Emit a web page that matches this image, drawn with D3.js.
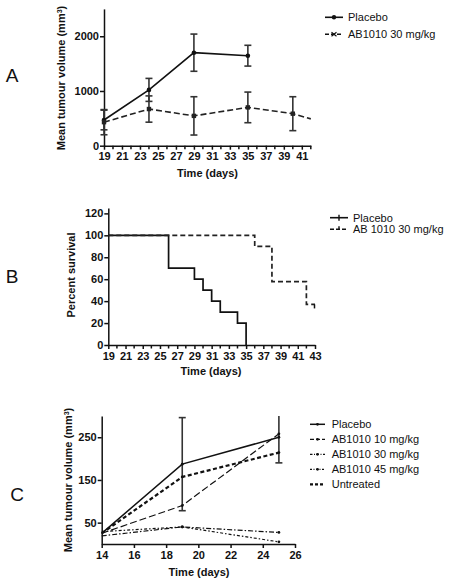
<!DOCTYPE html>
<html><head><meta charset="utf-8">
<script src="https://cdn.jsdelivr.net/npm/d3@7"></script>
<style>
body{margin:0;background:#fff;}
svg{display:block;}
svg text{font-family:"Liberation Sans",Arial,sans-serif;}
.tick text{font-weight:bold;font-size:11px;fill:#111;font-family:"Liberation Sans",Arial,sans-serif;}
.domain,.tick line{stroke:#111;stroke-width:1.5;}
</style></head>
<body><svg id="c" width="449" height="581"></svg>
<script>
// ---- Panel A data ----
const aPlaceboDays = [19, 24, 29, 35];
const aPlaceboMean = [470, 1020, 1700, 1645];
const aPlaceboErr  = [180, 210, 340, 190];
const aAbDays = [19, 24, 29, 35, 40, 42];
const aAbMean = [430, 670, 545, 700, 585, 490];
const aAbErr  = [230, 240, 350, 280, 310, 0];
const aXTicks = [19,21,23,25,27,29,31,33,35,37,39,41];
const aYTicks = [0, 1000, 2000];
const aLegend = ["Placebo", "AB1010 30 mg/kg"];

// ---- Panel B data (survival steps) ----
const bPlaceboDays = [19, 26, 29, 30, 31, 32, 34, 35];
const bPlaceboSurv = [100, 70, 60, 50, 40, 30, 20, 0];
const bAbDays = [19, 36, 38, 42, 43];
const bAbSurv = [100, 90, 57.8, 37, 37];
const bXTicks = [19,21,23,25,27,29,31,33,35,37,39,41,43];
const bYTicks = [0,20,40,60,80,100,120];
const bLegend = ["Placebo", "AB 1010 30 mg/kg"];

// ---- Panel C data ----
const cDays = [14, 19, 25];
const cPlacebo = [25, 187, 250];
const cPlaceboErr = [0, 109, 60];
const cAb10 = [25, 90, 258];
const cAb30 = [19, 40, 27];
const cAb45 = [29, 40, 5];
const cUntreated = [25, 157, 214];
const cXTicks = [14,16,18,20,22,24,26];
const cYTicks = [50,150,250];
const cLegend = ["Placebo","AB1010 10 mg/kg","AB1010 30 mg/kg","AB1010 45 mg/kg","Untreated"];

const svg = d3.select("#c");
const ink = "#111";
const fmt = d3.format("d");

function yTitle(g, x, y, parts){
  const t = g.append("text").attr("transform",`translate(${x},${y}) rotate(-90)`)
    .attr("text-anchor","middle").attr("font-weight","bold").attr("font-size",11).attr("fill",ink);
  t.append("tspan").text(parts[0]);
  if(parts.length>1){
    t.append("tspan").attr("baseline-shift","super").attr("font-size",7).text(parts[1]);
    t.append("tspan").text(parts[2]);
  }
}
function xTitle(g,x,y,s){
  g.append("text").attr("x",x).attr("y",y).attr("text-anchor","middle")
   .attr("font-weight","bold").attr("font-size",11).attr("fill",ink).text(s);
}
function letter(x,y,s){
  svg.append("text").attr("x",x).attr("y",y).attr("text-anchor","middle")
   .attr("font-size",19).attr("fill",ink).text(s);
}
function minorTicks(g, xs, days, y0, len){
  g.selectAll(null).data(days).enter().append("line")
   .attr("x1",d=>xs(d)).attr("x2",d=>xs(d)).attr("y1",y0).attr("y2",y0+len)
   .attr("stroke",ink).attr("stroke-width",1.5);
}
function errBars(g, xs, ys, days, mean, err, cap){
  days.forEach((d,i)=>{
    if(!err[i]) return;
    const x = xs(d), y1 = ys(mean[i]+err[i]), y2 = ys(mean[i]-err[i]);
    g.append("line").attr("x1",x).attr("x2",x).attr("y1",y1).attr("y2",y2).attr("stroke","#333").attr("stroke-width",1.6);
    [y1,y2].forEach(yy=>g.append("line").attr("x1",x-cap).attr("x2",x+cap).attr("y1",yy).attr("y2",yy).attr("stroke","#333").attr("stroke-width",1.6));
  });
}

// ================= Panel A =================
{
  const x = d3.scaleLinear().domain([19,42]).range([104,310.8]);
  const y = d3.scaleLinear().domain([0,2500]).range([145.7,8.9]);
  const g = svg.append("g");
  const days = d3.range(19,43);
  minorTicks(g, x, days.filter(d=>!aXTicks.includes(d)), 145.7, 3.5);
  g.append("g").attr("transform","translate(0,145.7)")
    .call(d3.axisBottom(x).tickValues(aXTicks).tickFormat(fmt).tickSize(4).tickPadding(3).tickSizeOuter(0));
  g.append("g").attr("transform","translate(104,0)")
    .call(d3.axisLeft(y).tickValues(aYTicks).tickFormat(fmt).tickSize(4).tickPadding(1).tickSizeOuter(0));
  const line = d3.line().x(d=>x(d[0])).y(d=>y(d[1]));
  const pl = aPlaceboDays.map((d,i)=>[d,aPlaceboMean[i]]);
  const ab = aAbDays.map((d,i)=>[d,aAbMean[i]]);
  errBars(g,x,y,aPlaceboDays,aPlaceboMean,aPlaceboErr,3.5);
  errBars(g,x,y,aAbDays,aAbMean,aAbErr,3.5);
  g.append("path").attr("d",line(pl)).attr("fill","none").attr("stroke",ink).attr("stroke-width",1.6);
  g.append("path").attr("d",line(ab)).attr("fill","none").attr("stroke","#222").attr("stroke-width",1.6).attr("stroke-dasharray","6,3");
  g.selectAll(null).data(pl).enter().append("circle").attr("cx",d=>x(d[0])).attr("cy",d=>y(d[1])).attr("r",2.3).attr("fill",ink);
  g.selectAll(null).data(ab.slice(0,5)).enter().append("rect").attr("x",d=>x(d[0])-2.2).attr("y",d=>y(d[1])-2.2).attr("width",4.4).attr("height",4.4).attr("fill","#222");
  yTitle(g,65,78,["Mean tumour volume (mm","3",")"]);
  xTitle(g,207.5,177,"Time (days)");
  const ly=[17.3,34.3];
  g.append("line").attr("x1",325).attr("x2",343).attr("y1",ly[0]).attr("y2",ly[0]).attr("stroke",ink).attr("stroke-width",1.6);
  g.append("circle").attr("cx",334).attr("cy",ly[0]).attr("r",2.2).attr("fill",ink);
  g.append("line").attr("x1",325).attr("x2",343).attr("y1",ly[1]).attr("y2",ly[1]).attr("stroke",ink).attr("stroke-width",1.6).attr("stroke-dasharray","4,2");
  g.append("path").attr("d",`M331.5,${ly[1]-2}L336.5,${ly[1]+2}M331.5,${ly[1]+2}L336.5,${ly[1]-2}`).attr("stroke",ink).attr("stroke-width",1.2);
  aLegend.forEach((s,i)=>g.append("text").attr("x",348).attr("y",ly[i]+4).attr("font-size",11).attr("fill",ink).text(s));
  letter(12,82,"A");
}

// ================= Panel B =================
{
  const x = d3.scaleLinear().domain([19,43]).range([108.3,315]);
  const y = d3.scaleLinear().domain([0,125]).range([345,207.9]);
  const g = svg.append("g");
  minorTicks(g, x, d3.range(19,44).filter(d=>!bXTicks.includes(d)), 345, 3.5);
  g.append("g").attr("transform","translate(0,345)")
    .call(d3.axisBottom(x).tickValues(bXTicks).tickFormat(fmt).tickSize(4).tickPadding(3).tickSizeOuter(0));
  g.append("g").attr("transform","translate(108.3,0)")
    .call(d3.axisLeft(y).tickValues(bYTicks).tickFormat(fmt).tickSize(4).tickPadding(1).tickSizeOuter(0));
  const step = d3.line().curve(d3.curveStepAfter).x(d=>x(d[0])).y(d=>y(d[1]));
  const pl = bPlaceboDays.map((d,i)=>[d,bPlaceboSurv[i]]);
  const ab = bAbDays.map((d,i)=>[d,bAbSurv[i]]);
  g.append("path").attr("d",step(pl)).attr("fill","none").attr("stroke",ink).attr("stroke-width",1.7);
  g.append("path").attr("d",step(ab)).attr("fill","none").attr("stroke","#222").attr("stroke-width",1.7).attr("stroke-dasharray","5,3");
  const last = ab[ab.length-1];
  g.append("line").attr("x1",x(last[0])-0.5).attr("x2",x(last[0])-0.5).attr("y1",y(last[1])).attr("y2",y(last[1])+4).attr("stroke",ink).attr("stroke-width",1.5);
  yTitle(g,75,275,["Percent survival"]);
  xTitle(g,211,375,"Time (days)");
  const ly=[217.7,229.3];
  g.append("line").attr("x1",330).attr("x2",348).attr("y1",ly[0]).attr("y2",ly[0]).attr("stroke",ink).attr("stroke-width",1.6);
  g.append("line").attr("x1",339).attr("x2",339).attr("y1",ly[0]-3).attr("y2",ly[0]+3).attr("stroke",ink).attr("stroke-width",1.4);
  g.append("line").attr("x1",330).attr("x2",348).attr("y1",ly[1]).attr("y2",ly[1]).attr("stroke",ink).attr("stroke-width",1.6).attr("stroke-dasharray","4,2");
  g.append("line").attr("x1",339).attr("x2",339).attr("y1",ly[1]-3).attr("y2",ly[1]).attr("stroke",ink).attr("stroke-width",1.4);
  bLegend.forEach((s,i)=>g.append("text").attr("x",353).attr("y",ly[i]+4).attr("font-size",11).attr("fill",ink).text(s));
  letter(12,283,"B");
}

// ================= Panel C =================
{
  const x = d3.scaleLinear().domain([14,26]).range([101.7,295]);
  const y = d3.scaleLinear().domain([0,300]).range([544,415.9]);
  const g = svg.append("g");
  svg.append("clipPath").attr("id","clipC").append("rect").attr("x",90).attr("y",415.9).attr("width",220).attr("height",140);
  g.append("g").attr("transform","translate(0,544)")
    .call(d3.axisBottom(x).tickValues(cXTicks).tickFormat(fmt).tickSize(4).tickPadding(3).tickSizeOuter(0));
  g.append("g").attr("transform","translate(101.7,0)")
    .call(d3.axisLeft(y).tickValues(cYTicks).tickFormat(fmt).tickSize(4).tickPadding(1).tickSizeOuter(0));
  const pg = g.append("g").attr("clip-path","url(#clipC)");
  const line = d3.line().x(d=>x(d[0])).y(d=>y(d[1]));
  const series = [
    {v:cPlacebo, dash:null, w:1.5, ld:null},
    {v:cAb10, dash:"7,3", w:1.2, ld:"4,2"},
    {v:cAb30, dash:"5,2,1.5,2", w:1.2, ld:"2.5,1.5,1,1.5"},
    {v:cAb45, dash:"3,2,1.5,2", w:1.2, ld:"2,1.5,1,1.5"},
    {v:cUntreated, dash:"4,2.5", w:2.2, ld:"3,2"}
  ];
  errBars(pg,x,y,cDays,cPlacebo,cPlaceboErr,3.5);
  series.forEach(s=>{
    const p = pg.append("path").attr("d",line(cDays.map((d,i)=>[d,s.v[i]]))).attr("fill","none")
      .attr("stroke",ink).attr("stroke-width",s.w);
    if(s.dash) p.attr("stroke-dasharray",s.dash);
    pg.selectAll(null).data(cDays.slice(1)).enter().append("circle")
      .attr("cx",d=>x(d)).attr("cy",(d,i)=>y(s.v[i+1])).attr("r",1.4).attr("fill",ink);
  });
  yTitle(g,71.7,480,["Mean tumour volume (mm","3",")"]);
  xTitle(g,199,575.5,"Time (days)");
  cLegend.forEach((s,i)=>{
    const ly = 424.3 + i*15;
    const l = g.append("line").attr("x1",310).attr("x2",325).attr("y1",ly).attr("y2",ly).attr("stroke",ink).attr("stroke-width",series[i].w);
    if(series[i].ld) l.attr("stroke-dasharray",series[i].ld);
    if(i<4) g.append("circle").attr("cx",317.5).attr("cy",ly).attr("r",1.4).attr("fill",ink);
    g.append("text").attr("x",331.7).attr("y",ly+4).attr("font-size",11).attr("fill",ink).text(s);
  });
  letter(17,501,"C");
}
</script></body></html>
